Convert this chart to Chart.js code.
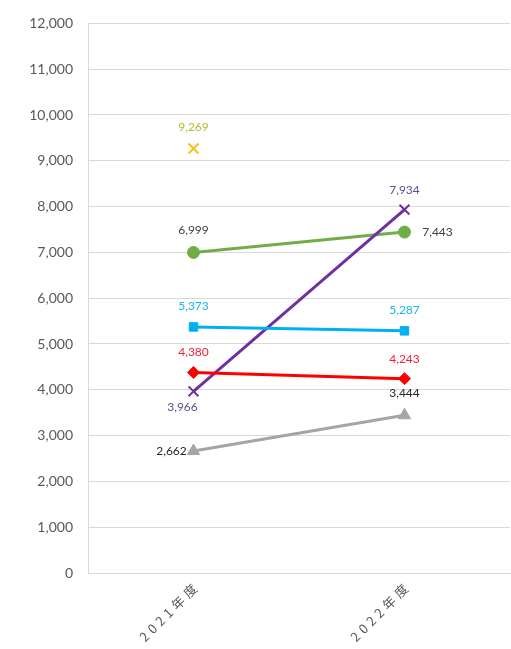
<!DOCTYPE html>
<html>
<head>
<meta charset="utf-8">
<script src="https://cdn.jsdelivr.net/npm/chart.js@4/dist/chart.umd.min.js"></script>
<style>
  html, body { margin: 0; padding: 0; background: #fff; }
  canvas { display: block; }
</style>
</head>
<body>
<canvas id="chart" width="511" height="649"></canvas>
<script>
// Categories and series values
const categories = ['2021年度', '2022年度'];
const seriesYellow = [9269, null];
const seriesGreen = [6999, 7443];
const seriesCyan = [5373, 5287];
const seriesRed = [4380, 4243];
const seriesPurple = [3966, 7934];
const seriesGray = [2662, 3444];
const yTicks = { min: 0, max: 12000, step: 1000 };

// Label placement per dataset: [dx, dy] per point, relative to the marker
const labelOffsets = {
  yellow: [[0, -21], null],
  green: [[0, -22], [33, 0]],
  cyan: [[0, -21], [0, -21]],
  red: [[0, -20], [0, -20]],
  purple: [[-11, 16], [0, -19]],
  gray: [[-22, 0], [0, -22]],
};

// Category scale with letter-spaced labels (like the Excel axis)
class SpacedCategoryScale extends Chart.CategoryScale {
  drawLabels(area) {
    this.ctx.save();
    this.ctx.letterSpacing = '4px';
    this.ctx.translate(4, -1); // make up for the trailing letter space
    super.drawLabels(area);
    this.ctx.restore();
  }
}
SpacedCategoryScale.id = 'spacedCategory';
SpacedCategoryScale.defaults = Chart.CategoryScale.defaults;
Chart.register(SpacedCategoryScale);

// Simple data label plugin
const pointLabels = {
  id: 'pointLabels',
  afterDatasetsDraw(chart) {
    const ctx = chart.ctx;
    ctx.save();
    ctx.font = '12px Lato, "Noto Sans", sans-serif';
    ctx.textAlign = 'center';
    ctx.textBaseline = 'middle';
    chart.data.datasets.forEach((ds, i) => {
      const meta = chart.getDatasetMeta(i);
      meta.data.forEach((pt, j) => {
        const v = ds.data[j];
        const off = ds.labelOffsets[j];
        if (v == null || !off) return;
        ctx.fillStyle = ds.labelColor;
        ctx.fillText(v.toLocaleString('en-US'), pt.x + off[0], pt.y + off[1]);
      });
    });
    ctx.restore();
  }
};

function lineSeries(data, color, style, labelColor, offsets, radius) {
  return {
    data,
    borderColor: color,
    backgroundColor: color,
    borderWidth: 3,
    pointStyle: style,
    pointRadius: radius,
    pointHoverRadius: radius,
    pointBorderColor: color,
    pointBackgroundColor: color,
    pointBorderWidth: style === 'crossRot' ? 2 : 1,
    labelColor,
    labelOffsets: offsets,
    spanGaps: false,
  };
}

const datasets = [
  lineSeries(seriesGray, '#A5A5A5', 'triangle', '#262626', labelOffsets.gray, 7),
  lineSeries(seriesRed, '#FF0000', 'rectRot', '#F0203C', labelOffsets.red, 6),
  lineSeries(seriesCyan, '#00B0F0', 'rect', '#1AB4E8', labelOffsets.cyan, 6),
  lineSeries(seriesPurple, '#7030A0', 'crossRot', '#5E4E8E', labelOffsets.purple, 7),
  lineSeries(seriesGreen, '#70AD47', 'circle', '#404040', labelOffsets.green, 6),
  lineSeries(seriesYellow, '#F2C41C', 'crossRot', '#B8B830', labelOffsets.yellow, 7),
];

new Chart(document.getElementById('chart'), {
  type: 'line',
  data: { labels: categories, datasets },
  options: {
    responsive: false,
    animation: false,
    devicePixelRatio: 1,
    layout: { autoPadding: false, padding: { top: 22, right: 1, left: 0, bottom: 0 } },
    plugins: {
      legend: { display: false },
      tooltip: { enabled: false },
    },
    scales: {
      x: {
        type: 'spacedCategory',
        offset: true,
        grid: { display: false },
        border: { display: true, color: '#D9D9D9', width: 1 },
        ticks: {
          color: '#595959',
          font: { family: '"Noto Sans CJK JP", sans-serif', size: 13 },
          minRotation: 45,
          maxRotation: 45,
          padding: -2,
        },
        afterFit(scale) {
          scale.height = 76;
          scale.paddingLeft = 0;
          scale.paddingRight = 0;
        },
      },
      y: {
        min: yTicks.min,
        max: yTicks.max,
        grid: { color: '#D9D9D9', drawTicks: false },
        border: { display: true, color: '#D9D9D9', width: 1 },
        ticks: {
          stepSize: yTicks.step,
          color: '#595959',
          font: { family: 'Lato, "Noto Sans", sans-serif', size: 14 },
          padding: 15,
          callback: (v) => v.toLocaleString('en-US'),
        },
        afterFit(scale) { scale.width = 88; },
      },
    },
  },
  plugins: [pointLabels],
});
</script>
</body>
</html>
